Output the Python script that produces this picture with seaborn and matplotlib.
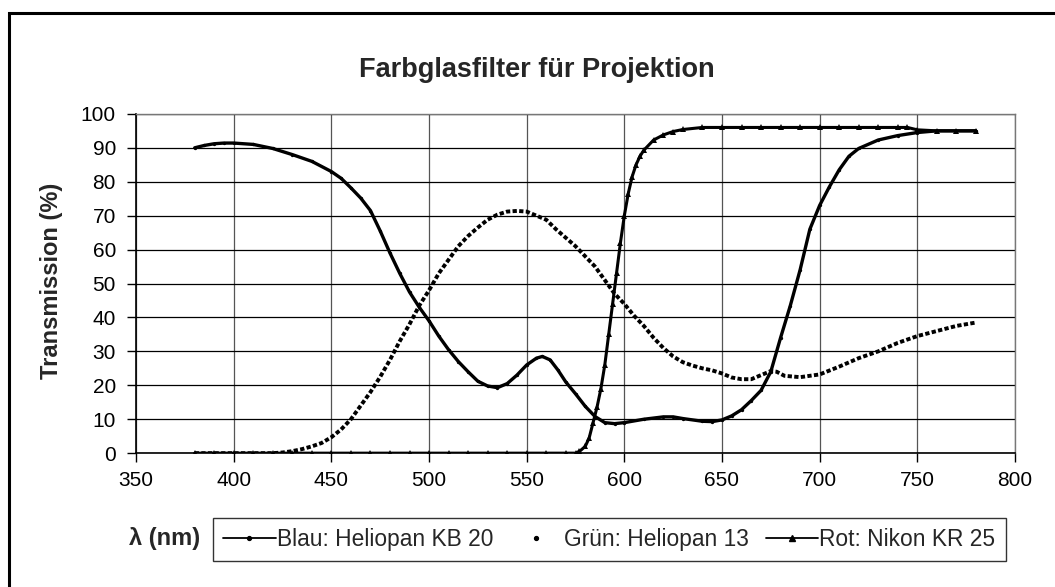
import matplotlib
matplotlib.use("Agg")
import matplotlib.pyplot as plt
import seaborn as sns
from matplotlib.lines import Line2D
from matplotlib.patches import Rectangle

# ------------------------
# Daten
# ------------------------
blau_nm = [380, 385, 390, 395, 400, 410, 420, 430, 440, 450, 455, 460, 465, 470,
           475, 480, 485, 490, 495, 500, 505, 510, 515, 520, 525, 530, 535, 540,
           545, 550, 555, 558, 562, 566, 570, 575, 580, 585, 590, 595, 600, 610,
           620, 625, 630, 640, 645, 650, 655, 660, 665, 670, 675, 680, 685, 690,
           695, 700, 705, 710, 715, 720, 730, 740, 750, 760, 770, 780]
blau_t = [90, 90.7, 91.2, 91.4, 91.4, 91, 89.8, 88, 86, 83, 81, 78.2, 75.2, 71.5,
          65.5, 59, 53, 47.5, 43, 39, 34.5, 30.5, 27, 24, 21.2, 19.8, 19.3, 20.5,
          23, 26, 28, 28.5, 27.5, 24.5, 21, 17.5, 13.8, 10.8, 9, 8.7, 9, 10,
          10.7, 10.7, 10.2, 9.4, 9.3, 9.8, 11, 12.8, 15.5, 18.5, 24, 34, 43.5, 54,
          66, 73, 78.5, 83.5, 87.5, 89.8, 92.3, 93.6, 94.5, 95, 95, 95]

gruen_nm = [380, 390, 400, 410, 420, 425, 430, 435, 440, 445, 450, 455, 460, 465,
            470, 475, 480, 485, 490, 495, 500, 505, 510, 515, 520, 525, 530, 535,
            540, 545, 550, 555, 560, 565, 570, 575, 580, 585, 590, 595, 600, 605,
            610, 615, 620, 625, 630, 635, 640, 645, 650, 655, 660, 665, 670, 675,
            678, 682, 690, 700, 710, 720, 730, 740, 750, 760, 770, 780]
gruen_t = [0, 0, 0, 0, 0, 0.2, 0.6, 1.2, 2, 3, 4.7, 7, 10, 14,
           18, 22.5, 27.5, 33, 38, 43.5, 48, 53, 57, 61, 64, 66.5, 68.8, 70.3,
           71.2, 71.4, 71.2, 70, 68.8, 66, 63.5, 61, 58, 55, 51, 47, 44, 40.5,
           37.5, 34, 31, 28.5, 26.8, 25.8, 25, 24.4, 23.5, 22.3, 21.8, 21.8, 23, 24.2,
           24, 22.8, 22.4, 23.2, 25.5, 28, 30, 32.5, 34.5, 36, 37.5, 38.5]

rot_nm = [380, 390, 400, 410, 420, 430, 440, 450, 460, 470, 480, 490, 500, 510,
          520, 530, 540, 550, 560, 570, 575, 577, 580, 582, 584, 586, 588, 590,
          592, 594, 596, 598, 600, 602, 604, 606, 608, 610, 615, 620, 625, 630,
          640, 650, 660, 670, 680, 690, 700, 710, 720, 730, 740, 745, 750, 760,
          770, 780]
rot_t = [0, 0, 0, 0, 0, 0, 0, 0, 0, 0, 0, 0, 0, 0,
         0, 0, 0, 0, 0, 0, 0, 0.5, 2, 4.5, 9, 13.5, 19, 26,
         35, 44, 53, 62, 70, 76.5, 81.5, 85, 87.5, 89.3, 92.3, 93.8, 94.8, 95.4,
         96, 96, 96, 96, 96, 96, 96, 96, 96, 96, 96, 96, 95.3, 95,
         95, 95]

labels = ["Blau: Heliopan KB 20", "Grün: Heliopan 13", "Rot: Nikon KR 25"]
x_ticks = list(range(350, 801, 50))
y_ticks = list(range(0, 101, 10))

# ------------------------
# Stil
# ------------------------
sns.set_theme(style="white")
plt.rcParams["font.family"] = ["Liberation Sans", "DejaVu Sans"]

fig = plt.figure(figsize=(10.55, 5.87), dpi=100)
ax = fig.add_axes([0.129, 0.228, 0.833, 0.578])

# Rahmen des Diagrammbereichs (links/oben sichtbar)
fig.patches.append(Rectangle((9 / 1055, -0.1), 1.2, 1 - 13 / 587 + 0.1,
                             transform=fig.transFigure, fill=False,
                             edgecolor="black", linewidth=2.2, zorder=0))

# ------------------------
# Kurven
# ------------------------
sns.lineplot(x=blau_nm, y=blau_t, ax=ax, color="black", lw=2.4,
             marker="o", markersize=2.4, markeredgewidth=0)
sns.lineplot(x=gruen_nm, y=gruen_t, ax=ax, color="black", lw=2.8,
             linestyle=(0, (1.1, 0.6)))
sns.lineplot(x=rot_nm, y=rot_t, ax=ax, color="black", lw=2.2,
             marker="^", markersize=3.8, markeredgewidth=0)

ax.set_xlim(350, 800)
ax.set_ylim(0, 100)
ax.set_xticks(x_ticks)
ax.set_yticks(y_ticks)
ax.tick_params(axis="both", labelsize=15, colors="black", length=6.5,
               width=1, direction="out", left=True, bottom=True, pad=8)
ax.tick_params(axis="x", pad=6.5)
ax.grid(True, axis="y", color="black", lw=0.9)
ax.grid(True, axis="x", color="#555555", lw=0.9)
ax.set_axisbelow(True)
for side in ["left", "bottom"]:
    ax.spines[side].set_color("black")
    ax.spines[side].set_linewidth(1.2)
for side in ["top", "right"]:
    ax.spines[side].set_color("#777777")
    ax.spines[side].set_linewidth(1.0)
ax.set_xlabel("")
ax.set_ylabel("")

# ------------------------
# Texte
# ------------------------
fig.text(0.5085, 1 - 77 / 587, "Farbglasfilter für Projektion", ha="center",
         va="baseline", fontsize=19.5, fontweight="bold")
fig.text(0.049, 0.521, "Transmission (%)", ha="center", va="center",
         rotation=90, fontsize=17, fontweight="bold")
fig.text(0.156, 0.083, "λ (nm)", ha="center", va="center",
         fontsize=17, fontweight="bold")

# ------------------------
# Legende
# ------------------------
handles = [
    Line2D([], [], color="black", lw=1.3, marker="o", markersize=2.8),
    Line2D([], [], color="black", lw=0, marker="o", markersize=2.8),
    Line2D([], [], color="black", lw=1.3, marker="^", markersize=4.5),
]
leg = fig.legend(handles, labels, loc="center", bbox_to_anchor=(0.5775, 0.081),
                 ncol=3, fontsize=16.4, frameon=True, fancybox=False,
                 handlelength=2.3, handletextpad=0.05, columnspacing=0.75,
                 borderpad=0.45, borderaxespad=0)
leg.get_frame().set_edgecolor("black")
leg.get_frame().set_linewidth(1.0)

plt.savefig("out.png", dpi=100)
plt.close()
